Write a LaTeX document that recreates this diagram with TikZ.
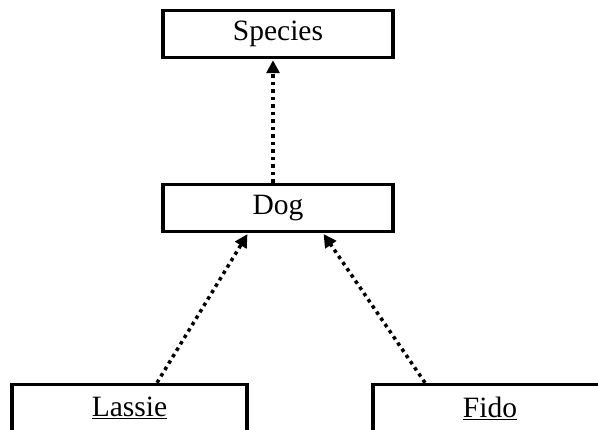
\documentclass[tikz,border=0pt]{standalone}
\usepackage{fontspec}
\setmainfont{Liberation Serif}
\usetikzlibrary{arrows.meta}
\usetikzlibrary{positioning}

\tikzset{
  classbox/.style={draw, line width=3.5pt, minimum width=230pt, minimum height=47pt, inner sep=0pt, font=\fontsize{29.5}{34}\selectfont},
  instof/.style={line width=3.5pt, dash pattern=on 3.5pt off 4pt, -{Triangle[width=13pt,length=13pt]}, shorten >=1pt}
}

\begin{document}
\begin{tikzpicture}[x=1pt, y=-1pt]
            \useasboundingbox (0,0) rectangle (598,430);
            \node[classbox] (species) at (278,34) {Species};
            \node[classbox] (dog) at (278,208) {Dog};
            \node[classbox, minimum width=235pt] (lassie) at (129.5,408) {\underline{Lassie}};
            \node[classbox, minimum width=234pt] (fido) at (490,408) {\underline{Fido}};
            \draw[instof] ([xshift=-5pt]dog.north) -- ([xshift=-5pt]species.south);
            \draw[instof] ([xshift=27.5pt]lassie.north) -- ([xshift=-30pt]dog.south);
            \draw[instof] ([xshift=-65pt]fido.north) -- ([xshift=45pt]dog.south);
        \end{tikzpicture}
\end{document}
